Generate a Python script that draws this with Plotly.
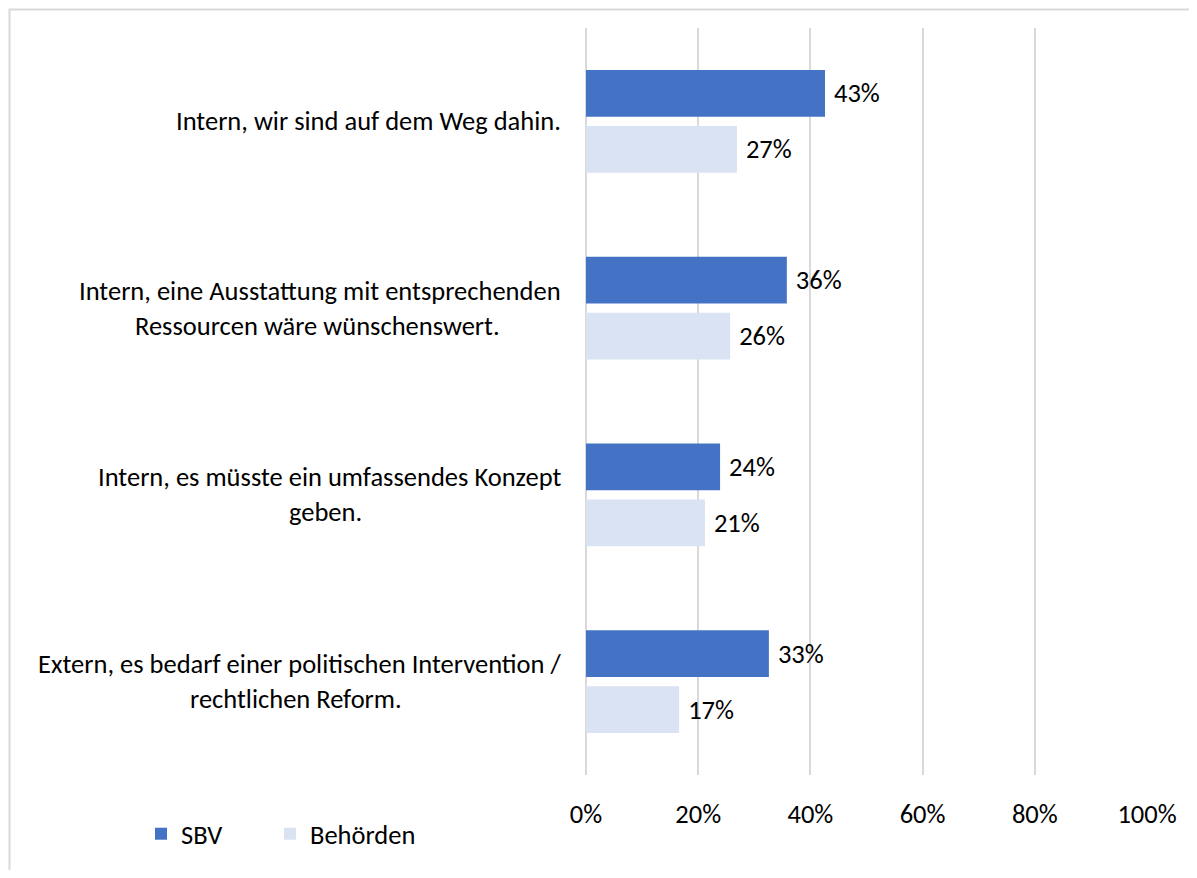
import plotly.graph_objects as go

categories = [
    "Intern, wir sind auf dem Weg dahin.",
    "Intern, eine Ausstattung mit entsprechenden|Ressourcen wäre wünschenswert.",
    "Intern, es müsste ein umfassendes Konzept|geben.",
    "Extern, es bedarf einer politischen Intervention /|rechtlichen Reform.",
]
cat_ids = ["c1", "c2", "c3", "c4"]
sbv_values = [0.426, 0.358, 0.239, 0.326]
behoerden_values = [0.269, 0.257, 0.212, 0.166]
series_names = ["SBV", "Behörden"]
tick_values = [0, 0.2, 0.4, 0.6, 0.8, 1.0]
tick_labels = ["0%", "20%", "40%", "60%", "80%", "100%"]
# horizontal centre (px left of the y axis) of each wrapped label's second line
second_line_center_offset = [None, 269, 261, 290]

FONT = "Carlito, 'Open Sans', sans-serif"
FS = 26.5
OFF = 8  # page body margin
W, H = 1197 - 2 * OFF, 878 - 2 * OFF
ML, MT = 586 - OFF, 28 - OFF
MR = W - (1147 - OFF)
MB = H - (775 - OFF)
pw = W - ML - MR
ph = H - MT - MB

fig = go.Figure()
fig.add_trace(go.Bar(
    y=cat_ids, x=sbv_values, name=series_names[0], orientation="h",
    marker=dict(color="#4472C4", line=dict(width=0)),
    texttemplate=" %{x:.0%}", textposition="outside",
    textfont=dict(family=FONT, size=FS, color="#000000"), cliponaxis=False,
    legend="legend", showlegend=True,
))
fig.add_trace(go.Bar(
    y=cat_ids, x=behoerden_values, name=series_names[1], orientation="h",
    marker=dict(color="#DAE3F3", line=dict(width=0)),
    texttemplate=" %{x:.0%}", textposition="outside",
    textfont=dict(family=FONT, size=FS, color="#000000"), cliponaxis=False,
    legend="legend2", showlegend=True,
))

annotations = []
for cid, label, c2 in zip(cat_ids, categories, second_line_center_offset):
    lines = label.split("|")
    if len(lines) == 1:
        annotations.append(dict(
            x=0, y=cid, xref="x", yref="y", text=lines[0], showarrow=False,
            xanchor="right", yanchor="middle", xshift=-23,
            font=dict(family=FONT, size=FS, color="#000000"),
        ))
    else:
        annotations.append(dict(
            x=0, y=cid, xref="x", yref="y", text=lines[0], showarrow=False,
            xanchor="right", yanchor="middle", xshift=-23, yshift=17.5,
            font=dict(family=FONT, size=FS, color="#000000"),
        ))
        annotations.append(dict(
            x=0, y=cid, xref="x", yref="y", text=lines[1], showarrow=False,
            xanchor="center", yanchor="middle", xshift=-c2, yshift=-17.5,
            font=dict(family=FONT, size=FS, color="#000000"),
        ))

shapes = [dict(
    type="rect", xref="paper", yref="paper",
    x0=(1.5 - ML) / pw, x1=(W + 20 - ML) / pw,
    y0=-(MB + 20) / ph, y1=1 + (MT - 1.5) / ph,
    line=dict(color="#D9D9D9", width=2), fillcolor="rgba(0,0,0,0)", layer="below",
)]

legend_common = dict(
    orientation="h", xanchor="left", y=-(834 - 775) / ph, yanchor="middle",
    font=dict(family=FONT, size=FS, color="#000000"), itemwidth=30,
    bgcolor="rgba(0,0,0,0)",
)

fig.update_layout(
    width=W, height=H, showlegend=True,
    margin=dict(l=ML, r=MR, t=MT, b=MB, pad=0),
    barmode="group", bargap=0.40, bargroupgap=0.166,
    plot_bgcolor="white", paper_bgcolor="white",
    font=dict(family=FONT, size=FS, color="#000000"),
    xaxis=dict(
        range=[0, 1], tickvals=tick_values, ticktext=tick_labels,
        showgrid=True, gridcolor="#D9D9D9", gridwidth=2,
        zeroline=True, zerolinecolor="#D9D9D9", zerolinewidth=2,
        showline=False, ticks="", ticklabelstandoff=20,
        tickfont=dict(family=FONT, size=FS, color="#000000"),
    ),
    yaxis=dict(
        categoryorder="array", categoryarray=cat_ids, autorange="reversed",
        showticklabels=False, showgrid=False, zeroline=False, showline=False,
    ),
    legend=dict(x=(141 - OFF - ML) / pw, **legend_common),
    legend2=dict(x=(270 - OFF - ML) / pw, **legend_common),
    annotations=annotations,
    shapes=shapes,
)

fig.write_html("out.html")
